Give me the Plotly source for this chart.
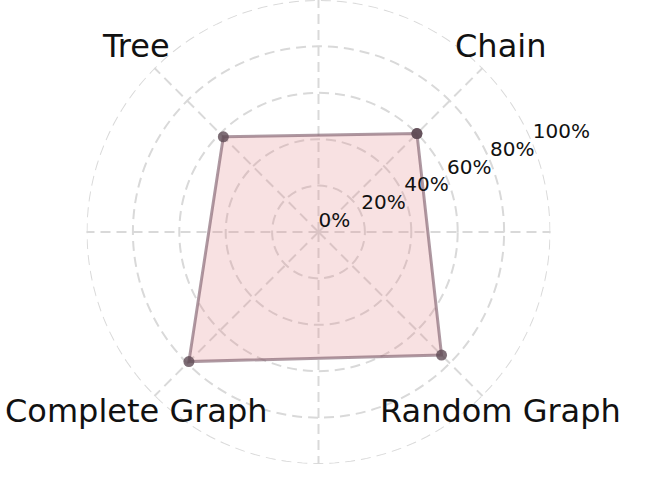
import math
import plotly.graph_objects as go

categories = ["Chain", "Tree", "Complete Graph", "Random Graph"]
angles = [45, 135, 225, 315]
values = [0.60, 0.58, 0.79, 0.75]
tick_vals = [0, 0.2, 0.4, 0.6, 0.8, 1.0]
tick_labels = ["0%", "20%", "40%", "60%", "80%", "100%"]
grid_angles = [0, 45, 90, 135, 180, 225, 270, 315]
ring_theta = list(range(0, 362, 2))
label_r = 1.115
tick_label_angle = 22.5

W, H = 668, 482
FONT = "DejaVu Sans"
GRID = "#d9d9d9"
DASH = "10px,6px"

# polar placement (pixels)
CX, CY, RD = 318.5, 232.0, 232.0
dom_x = [(CX - RD) / W, (CX + RD) / W]
dom_y = [(H - (CY + RD)) / H, 1.0]
LABEL_CY, LABEL_R = 228.5, 231.0

fig = go.Figure()

# outer dashed ring at 100%
fig.add_trace(go.Scatterpolar(
    r=[1.0] * len(ring_theta),
    theta=ring_theta,
    mode="lines",
    line=dict(color=GRID, width=2, dash=DASH),
    cliponaxis=False,
    showlegend=False,
    hoverinfo="skip",
))

fig.add_trace(go.Scatterpolar(
    r=values + [values[0]],
    theta=angles + [angles[0]],
    mode="lines+markers",
    fill="toself",
    fillcolor="rgba(225,130,135,0.24)",
    line=dict(color="rgba(125,90,105,0.62)", width=3),
    marker=dict(size=11, color="rgba(95,75,85,0.8)"),
    showlegend=False,
    hoverinfo="skip",
))

fig.add_trace(go.Scatterpolar(
    r=tick_vals,
    theta=[tick_label_angle] * len(tick_vals),
    mode="text",
    text=tick_labels,
    textposition="top right",
    textfont=dict(family=FONT, size=20, color="#111111"),
    cliponaxis=False,
    showlegend=False,
    hoverinfo="skip",
))

# category labels sit outside the radial range, so place them as annotations
annotations = []
for name, ang in zip(categories, angles):
    px = CX + label_r * LABEL_R * math.cos(math.radians(ang))
    py = LABEL_CY - label_r * LABEL_R * math.sin(math.radians(ang))
    annotations.append(dict(
        x=px / W, y=1 - py / H, xref="paper", yref="paper",
        text=name, showarrow=False, xanchor="center", yanchor="middle",
        font=dict(family=FONT, size=32, color="#111111"),
    ))

fig.update_layout(
    width=W, height=H,
    margin=dict(l=0, r=0, t=0, b=0),
    paper_bgcolor="white",
    plot_bgcolor="white",
    font=dict(family=FONT),
    annotations=annotations,
    polar=dict(
        domain=dict(x=dom_x, y=dom_y),
        bgcolor="white",
        radialaxis=dict(
            range=[0, 1.0],
            tickvals=tick_vals[1:],
            showticklabels=False,
            showline=False,
            ticks="",
            gridcolor=GRID,
            gridwidth=2,
            griddash=DASH,
        ),
        angularaxis=dict(
            tickmode="array",
            tickvals=grid_angles,
            showticklabels=False,
            showline=False,
            ticks="",
            rotation=0,
            direction="counterclockwise",
            gridcolor=GRID,
            gridwidth=2,
            griddash=DASH,
        ),
    ),
)

fig.write_html("out.html", config={"displayModeBar": False},
               post_script="document.body.style.margin='0';")
